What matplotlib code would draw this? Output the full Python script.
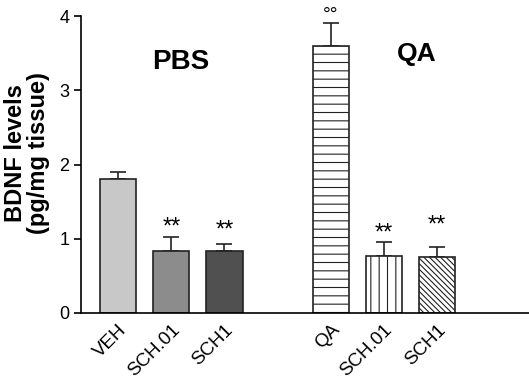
import numpy as np
import matplotlib.pyplot as plt

labels = ["VEH", "SCH.01", "SCH1", "QA", "SCH.01", "SCH1"]
positions = [0, 1, 2, 4, 5, 6]
means = [1.81, 0.83, 0.83, 3.60, 0.77, 0.76]
errors = [0.09, 0.19, 0.10, 0.31, 0.19, 0.13]
marks = ["", "**", "**", "°°", "**", "**"]
mark_y = [0, 1.07, 1.03, 3.95, 0.99, 1.10]
colors = ["#c8c8c8", "#8c8c8c", "#505050", "white", "white", "white"]
hatches = [None, None, None, "--", "||", "\\" * 6]

plt.rcParams['font.family'] = ['Liberation Sans', 'DejaVu Sans']
plt.rcParams['hatch.linewidth'] = 0.8

fig = plt.figure(figsize=(5.29, 3.84), dpi=100)
ax = fig.add_axes([0.153, 0.185, 0.847, 0.773])

for x, m, e, c, h in zip(positions, means, errors, colors, hatches):
    ax.bar(x, m, width=0.68, color=c, edgecolor="#222222", linewidth=1.2, hatch=h, zorder=2)
    ax.errorbar(x, m, yerr=[[0], [e]], fmt="none", ecolor="#222222", elinewidth=1.2,
                capsize=6, capthick=1.2, zorder=1)

for x, s, y in zip(positions, marks, mark_y):
    if s:
        size = 14 if s == "°°" else 17
        ax.text(x, y, s, ha="center", va="baseline", fontsize=size, clip_on=False)

ax.text(1.17, 3.38, "PBS", ha="center", va="center", fontsize=20, fontweight="bold")
ax.text(5.62, 3.49, "QA", ha="center", va="center", fontsize=19, fontweight="bold")

ax.set_xlim(-0.7, 7.73)
ax.set_ylim(0, 4)
ax.set_yticks([0, 1, 2, 3, 4])
ax.set_xticks(positions)
ax.set_xticklabels(labels, rotation=45, ha="right", rotation_mode="anchor", fontsize=13.5)
ax.tick_params(axis="x", length=0, pad=6)
ax.tick_params(axis="y", labelsize=13, length=5, width=1.2, direction="out")
ax.set_ylabel("BDNF levels\n(pg/mg tissue)", fontsize=17, fontweight="bold", linespacing=1.0)
ax.yaxis.set_label_coords(-0.07, 0.54)
ax.spines["top"].set_visible(False)
ax.spines["right"].set_visible(False)
ax.spines["left"].set_linewidth(1.2)
ax.spines["bottom"].set_linewidth(1.2)

fig.savefig("out.png", dpi=100)
